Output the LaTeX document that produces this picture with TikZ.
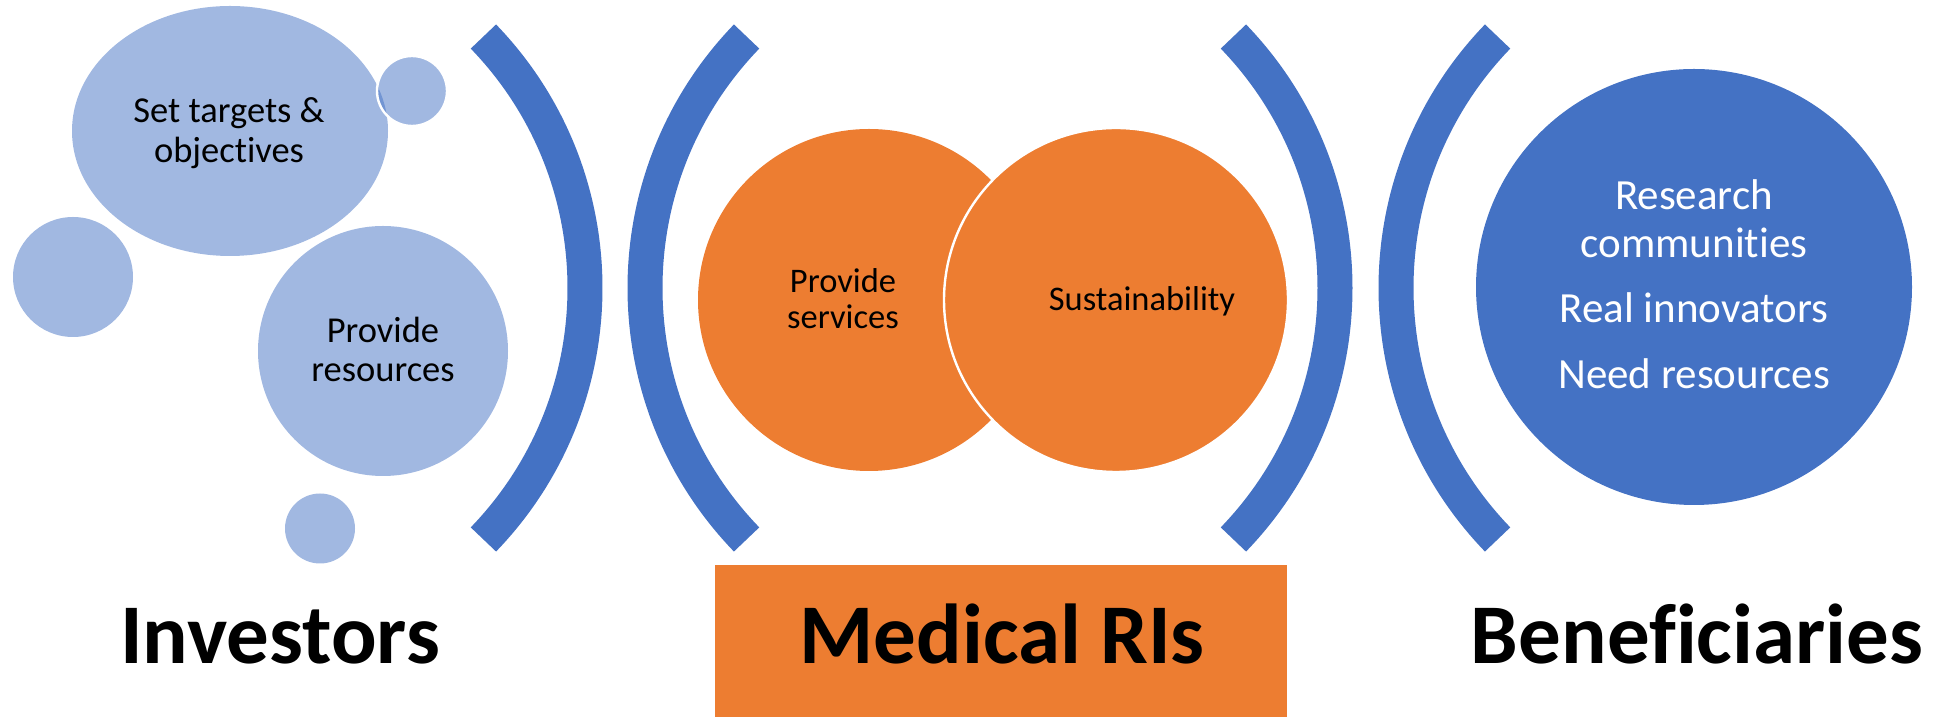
\documentclass[tikz,border=0pt]{standalone}
\usepackage{fontspec}
\setmainfont{Carlito}[RawFeature={-liga;-clig;-calt;-dlig}]
\definecolor{acc}{HTML}{4472C4}
\definecolor{org}{HTML}{ED7D31}
\begin{document}
\begin{tikzpicture}[x=0.5pt,y=0.5pt,
  bracketarc/.style={draw=acc,line width=17.5pt},
  lightbub/.style={fill=acc,fill opacity=0.5},
  orgbub/.style={fill=org},
  whiterim/.style={draw=white,draw opacity=1,line width=1.2pt},
  smalltxt/.style={align=center,anchor=base,inner sep=0pt,text=black,font=\fontsize{18.25}{19.75}\selectfont},
  midtxt/.style={align=center,anchor=base,inner sep=0pt,text=black,font=\fontsize{17.25}{17.8}\selectfont},
  bigtxt/.style={align=center,anchor=base,inner sep=0pt,text=white,font=\fontsize{21.5}{24}\selectfont},
  labeltxt/.style={anchor=base,inner sep=0pt,text=black,font=\fontsize{42.5}{50}\selectfont\bfseries}]
\useasboundingbox (0,0) rectangle (1939,717);
% investors bubbles
\fill[lightbub] (230,586) ellipse[x radius=158,y radius=125];
\fill[lightbub] (73,440) circle[radius=60];
\fill[lightbub] (383,366) circle[radius=125];
\fill[lightbub] (320,188.5) circle[radius=35];
\filldraw[lightbub,whiterim] (412,626) circle[radius=35];
\node[smalltxt] (settargets) at (229,554.5) {Set targets \&\\objectives};
\node[smalltxt] (provres) at (383,335) {Provide\\resources};
% brackets
\draw[bracketarc] (223,429) ++(-44:362) arc[start angle=-44,end angle=44,radius=362];
\draw[bracketarc] (1007,429) ++(136:362) arc[start angle=136,end angle=224,radius=362];
\draw[bracketarc] (973,429) ++(-44:362) arc[start angle=-44,end angle=44,radius=362];
\draw[bracketarc] (1758,429) ++(136:362) arc[start angle=136,end angle=224,radius=362];
% medical RIs bubbles
\fill[orgbub] (869,417) circle[radius=171];
\filldraw[orgbub,draw=white,line width=1.2pt] (1116,417) circle[radius=172];
\node[midtxt] (provserv) at (843,388.4) {Provide\\services};
\node[midtxt] (sustain) at (1142,406) {Sustainability};
% beneficiaries bubble
\fill[acc] (1694,430) circle[radius=218];
\node[bigtxt] (benef) at (1694,328.4) {Research\\communities\\[8.5pt]Real innovators\\[9pt]Need resources};
% bottom labels
\fill[org] (714.5,0) rectangle (1287,152);
\node[labeltxt] (investors) at (280,53) {Investors};
\node[labeltxt] (medical) at (1002,53) {Medical RIs};
\node[labeltxt] (beneficiaries) at (1697,53) {Beneficiaries};
\end{tikzpicture}
\end{document}
